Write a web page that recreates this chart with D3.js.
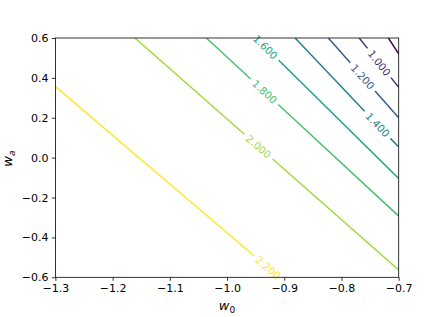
<!DOCTYPE html>
<html><head><meta charset="utf-8">
<script src="https://cdn.jsdelivr.net/npm/d3@7"></script>
<style>body{margin:0;background:#fff} svg{display:block} text{font-family:"DejaVu Sans",sans-serif}</style>
</head><body><svg id="c" width="443" height="317"></svg>
<script>
// contour levels and their inline labels
const levels = [0.8, 1.0, 1.2, 1.4, 1.6, 1.8, 2.0, 2.2];
const levelLabels = [null, "1.000", "1.200", "1.400", "1.600", "1.800", "2.000", "2.200"];
// contour line end points in data coordinates (w0, wa)
const lineStartW0 = [-0.718, -0.769, -0.823, -0.881, -0.949, -1.036, -1.161, -1.3];
const lineStartWa = [0.6, 0.6, 0.6, 0.6, 0.6, 0.6, 0.6, 0.356];
const lineEndW0   = [-0.7, -0.7, -0.7, -0.7, -0.7, -0.7, -0.7, -0.9085];
const lineEndWa   = [0.52, 0.353, 0.200, 0.053, -0.104, -0.293, -0.563, -0.6];
// w0 position of each inline label's centre
const labelW0 = [null, -0.734, -0.763, -0.737, -0.933, -0.9346, -0.945, -0.9284];
const xTicks = [-1.3, -1.2, -1.1, -1.0, -0.9, -0.8, -0.7];
const yTicks = [-0.6, -0.4, -0.2, 0.0, 0.2, 0.4, 0.6];

const L = 55.4, R = 398.7, T = 38, B = 277.3;
const svg = d3.select("#c");
const x = d3.scaleLinear([-1.3, -0.7], [L, R]);
const y = d3.scaleLinear([-0.6, 0.6], [B, T]);
const color = d3.scaleSequential(d3.interpolateViridis).domain([levels[0], levels[levels.length - 1]]);

svg.append("defs").append("clipPath").attr("id", "clip")
  .append("rect").attr("x", L).attr("y", T).attr("width", R - L).attr("height", B - T);

const gLines = svg.append("g").attr("clip-path", "url(#clip)");
const gLabels = svg.append("g");
const line = d3.line();

levels.forEach((lv, i) => {
  const c = color(lv);
  const p1 = [x(lineStartW0[i]), y(lineStartWa[i])];
  const p2 = [x(lineEndW0[i]), y(lineEndWa[i])];
  const dx = p2[0] - p1[0], dy = p2[1] - p1[1];
  const len = Math.hypot(dx, dy);
  const ux = dx / len, uy = dy / len;
  let segs = [[p1, p2]];
  if (levelLabels[i]) {
    const t = (x(labelW0[i]) - p1[0]) / dx;
    const cx = p1[0] + t * dx, cy = p1[1] + t * dy;
    const ang = Math.atan2(dy, dx) * 180 / Math.PI;
    const txt = gLabels.append("text")
      .attr("transform", `translate(${cx},${cy}) rotate(${ang})`)
      .attr("text-anchor", "middle").attr("dy", "0.36em")
      .attr("font-size", 10.3).attr("fill", c).text(levelLabels[i]);
    const w = txt.node().getComputedTextLength();
    const half = w / 2 + 4;
    const s = t * len;
    segs = [];
    if (s - half > 0) segs.push([p1, [cx - ux * half, cy - uy * half]]);
    if (s + half < len) segs.push([[cx + ux * half, cy + uy * half], p2]);
  }
  segs.forEach(sg => gLines.append("path").attr("d", line(sg))
    .attr("fill", "none").attr("stroke", c).attr("stroke-width", 1.5));
});

const fmt = d3.format(".1f");
const xa = svg.append("g").attr("transform", `translate(0,${B})`)
  .call(d3.axisBottom(x).tickValues(xTicks).tickFormat(fmt).tickSize(3.5).tickPadding(3.5));
const ya = svg.append("g").attr("transform", `translate(${L},0)`)
  .call(d3.axisLeft(y).tickValues(yTicks).tickFormat(fmt).tickSize(3.5).tickPadding(3.5));
[xa, ya].forEach(a => {
  a.select(".domain").remove();
  a.attr("font-family", "DejaVu Sans").attr("font-size", 11);
  a.selectAll(".tick line").attr("stroke", "#000").attr("stroke-width", 0.8);
  a.selectAll(".tick text").attr("fill", "#000");
});

svg.append("rect").attr("x", L).attr("y", T).attr("width", R - L).attr("height", B - T)
  .attr("fill", "none").attr("stroke", "#000").attr("stroke-width", 0.8);

const xl = svg.append("text").attr("x", (L + R) / 2).attr("y", 309.5).attr("text-anchor", "middle");
xl.append("tspan").attr("font-size", 13).attr("font-style", "italic").text("w");
xl.append("tspan").attr("font-size", 9).attr("dy", 3).text("0");

const yl = svg.append("text").attr("transform", `translate(11.5,${(T + B) / 2 + 1})rotate(-90)`).attr("text-anchor", "middle");
yl.append("tspan").attr("font-size", 13).attr("font-style", "italic").text("w");
yl.append("tspan").attr("font-size", 9).attr("font-style", "italic").attr("dy", 3).text("a");
</script></body></html>
